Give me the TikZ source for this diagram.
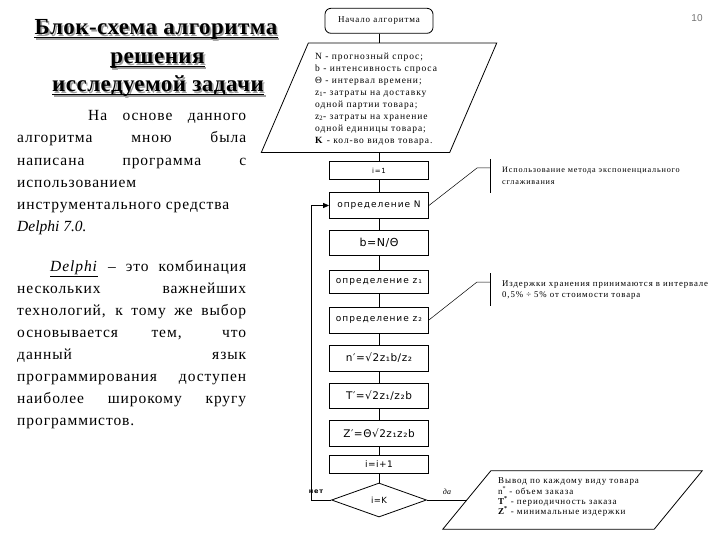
\documentclass[tikz,border=0pt]{standalone}
\usepackage{fontspec}
\setmainfont{Liberation Serif}
\newfontfamily\titlefont[LetterSpace=2]{Liberation Serif}
\newfontfamily\parafont[LetterSpace=6]{Liberation Serif}
\newfontfamily\smallserif[LetterSpace=10]{Liberation Serif}
\newfontfamily\boxfont[LetterSpace=11]{DejaVu Sans}
\newfontfamily\formfont[LetterSpace=5]{DejaVu Sans}
\newfontfamily\numfont{Liberation Sans}
\usetikzlibrary{shapes.geometric,arrows.meta}
\definecolor{shadowc}{gray}{0.62}
\definecolor{pgnum}{gray}{0.45}
\begin{document}
\begin{tikzpicture}[x=1pt,y=-1pt,
  ttl/.style={font=\titlefont\fontsize{23}{26}\selectfont\bfseries, anchor=base, inner sep=0pt},
  para/.style={font=\parafont\fontsize{15.5}{18}\selectfont, anchor=base west, inner sep=0pt},
  fbox/.style={draw, line width=0.8pt, minimum width=99pt, inner sep=0pt, font=\boxfont\fontsize{9}{10}\selectfont},
  formula/.style={font=\formfont\fontsize{10.5}{12}\selectfont},
  conn/.style={line width=0.8pt},
  note/.style={line width=0.5pt},
  smalltext/.style={font=\smallserif\fontsize{9.5}{12.1}\selectfont, align=left, inner sep=0pt}]
\useasboundingbox (0,0) rectangle (720,540);
% title
\foreach \n/\t/\x/\y in {t1/{Блок-схема алгоритма}/156/34.5, t2/{решения}/157.5/63.5, t3/{исследуемой задачи}/158/91.5}{
  \node[ttl,text=shadowc] (\n s) at (\x+1.6,\y+1.6) {\t};
  \draw[line width=1.5pt,shadowc] ([yshift=-3pt]\n s.base west) -- ([yshift=-3pt]\n s.base east);
  \node[ttl] (\n) at (\x,\y) {\t};
  \draw[line width=1.5pt] ([yshift=-3pt]\n.base west) -- ([yshift=-3pt]\n.base east);
}
% paragraphs
\node[para] (p1) at (88,120.7) {\makebox[158pt][s]{На основе данного}};
\node[para] (p2) at (17,142.9) {\makebox[229pt][s]{алгоритма мною была}};
\node[para] (p3) at (17,165.1) {\makebox[229pt][s]{написана программа с}};
\node[para] (p4) at (17,187.3) {использованием};
\node[para] (p5) at (17,209.5) {инструментального средства};
\node[para, font=\fontsize{15.5}{18}\selectfont] (p6) at (17,231.7) {\textit{Delphi 7.0.}};
\node[para] (q1) at (50,271.7) {\makebox[196pt][s]{\underline{\textit{Delphi}} – это комбинация}};
\node[para] (q2) at (17,293.6) {\makebox[229pt][s]{нескольких важнейших}};
\node[para] (q3) at (17,315.5) {\makebox[229pt][s]{технологий, к тому же выбор}};
\node[para] (q4) at (17,337.4) {\makebox[229pt][s]{основывается тем, что}};
\node[para] (q5) at (17,359.3) {\makebox[229pt][s]{данный язык}};
\node[para] (q6) at (17,381.2) {\makebox[229pt][s]{программирования доступен}};
\node[para] (q7) at (17,403.1) {\makebox[229pt][s]{наиболее широкому кругу}};
\node[para] (q8) at (17,425.0) {программистов.};
% page number
\node[font=\numfont\fontsize{10}{12}\selectfont, text=pgnum] (pg) at (697,18) {10};
% flowchart
\node[draw, line width=0.8pt, rounded corners=6pt, minimum width=108pt, minimum height=25pt, font=\smallserif\fontsize{9}{10}\selectfont] (start) at (379,20.8) {Начало алгоритма};
\node[minimum width=188pt, minimum height=109pt, inner sep=0pt] (par) at (379,97.8) {};
\draw[conn] ([xshift=23.5pt]par.north west) -- ([xshift=23.5pt]par.north east) -- ([xshift=-23.5pt]par.south east) -- ([xshift=-23.5pt]par.south west) -- cycle;
\node[smalltext, anchor=west] (parT) at (315,99.2) {N - прогнозный спрос;\\ b - интенсивность спроса\\ Θ - интервал времени;\\ z\textsubscript{1}- затраты на доставку\\ одной партии товара;\\ z\textsubscript{2}- затраты на хранение\\ одной единицы товара;\\ \textbf{K} - кол-во видов товара.};
\node[fbox, minimum height=18pt, font=\boxfont\fontsize{7}{8}\selectfont] (i1) at (379,170.6) {i=1};
\node[fbox, minimum height=25.6pt] (dN) at (379,205.5) {определение N};
\node[fbox, minimum height=25pt, font=\formfont\fontsize{11}{12}\selectfont] (bN) at (379,242.5) {b=N/Θ};
\node[fbox, minimum height=23pt] (dz1) at (379,281.5) {определение z₁};
\node[fbox, minimum height=26pt] (dz2) at (379,320) {определение z₂};
\node[fbox, minimum height=26pt, formula] (nn) at (379,358) {n′=√2z₁b/z₂};
\node[fbox, minimum height=25pt, formula] (TT) at (379,395.5) {T′=√2z₁/z₂b};
\node[fbox, minimum height=26pt, formula] (ZZ) at (379,433) {Z′=Θ√2z₁z₂b};
\node[fbox, minimum height=18pt, font=\formfont\fontsize{9}{10}\selectfont] (inc) at (379,464) {i=i+1};
\node[draw, line width=0.8pt, diamond, minimum width=95pt, minimum height=34pt, inner sep=0pt, font=\formfont\fontsize{8.5}{10}\selectfont] (dia) at (379,500) {i=K};
\foreach \a/\b in {start/par, par/i1, i1/dN, dN/bN, bN/dz1, dz1/dz2, dz2/nn, nn/TT, TT/ZZ, ZZ/inc, inc/dia}
  \draw[conn] (\a) -- (\b);
% loop back
\coordinate (lp) at (311.7,500);
\draw[conn, -{Triangle[length=6pt,width=5pt]}] (dia.west) -- (lp) |- (dN.west);
\node[font=\boxfont\bfseries\fontsize{6.5}{7}\selectfont] (no) at (316,491.7) {нет};
\node[font=\itshape\fontsize{8}{9}\selectfont] (yes) at (447,491.7) {да};
% output
\node[minimum width=211pt, minimum height=58pt, inner sep=0pt] (out) at (572.5,500) {};
\draw[conn] ([xshift=24pt]out.north west) -- ([xshift=24pt]out.north east) -- ([xshift=-24pt]out.south east) -- ([xshift=-24pt]out.south west) -- cycle;
\node[smalltext, anchor=west, font=\smallserif\fontsize{9}{10.3}\selectfont] (outT) at (498,497.2) {Вывод по каждому виду товара\\ n\textsuperscript{*} - объем заказа\\ \textbf{T\textsuperscript{*}} - периодичность заказа\\ \textbf{Z\textsuperscript{*}} - минимальные издержки};
\draw[conn] (dia.east) -- (out.west);
% annotations
\coordinate (a1) at (477,168);
\coordinate (a1m) at (490,168);
\coordinate (a1t) at (490,159);
\coordinate (a1b) at (490,193);
\draw[note] (dN.east) -- (a1) -- (a1m);
\draw[note] (a1t) -- (a1b);
\node[smalltext, anchor=west, font=\smallserif\fontsize{8.2}{11.8}\selectfont] (n1) at (502,176) {Использование метода экспоненциального\\ сглаживания};
\coordinate (a2) at (477,282);
\coordinate (a2m) at (490,282);
\coordinate (a2t) at (490,273);
\coordinate (a2b) at (490,306);
\draw[note] (dz2.east) -- (a2) -- (a2m);
\draw[note] (a2t) -- (a2b);
\node[smalltext, anchor=west, font=\smallserif\fontsize{8.8}{11}\selectfont] (n2) at (502,290.3) {Издержки хранения принимаются в интервале\\ 0,5\% ÷ 5\% от стоимости товара};
\end{tikzpicture}
\end{document}
